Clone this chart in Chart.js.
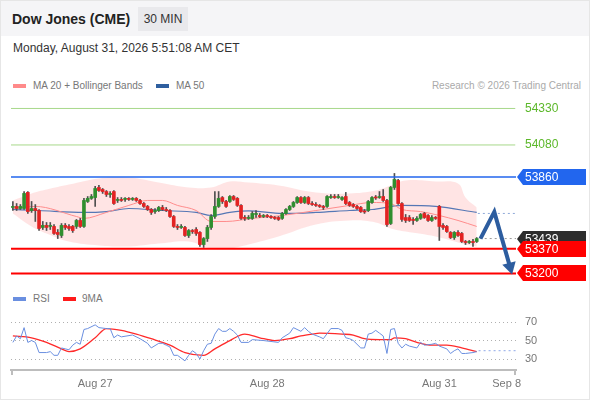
<!DOCTYPE html>
<html>
<head>
<meta charset="utf-8">
<script src="https://cdn.jsdelivr.net/npm/chart.js@4.4.1/dist/chart.umd.min.js"></script>
<style>
  body { margin: 0; overflow: hidden; background: #fff; font-family: "Liberation Sans", Arial, sans-serif; }
  #wrap { position: relative; width: 590px; height: 400px; overflow: hidden; }
  .abs { position: absolute; white-space: nowrap; }
  #header { left: 0; top: 0; width: 590px; height: 36px; background: #f5f5f7; }
  #title { left: 12px; top: 10px; font-size: 14px; font-weight: bold; color: #222; line-height: 18px; }
  #badge { left: 138px; top: 7px; width: 50px; height: 24px; line-height: 24px; text-align: center; background: #e9e9ec; font-size: 12px; color: #333; }
  #date { left: 13px; top: 41px; font-size: 12px; line-height: 15px; color: #333; }
  .leg { font-size: 10px; line-height: 12px; color: #777; }
  .sw { position: absolute; width: 13px; height: 4px; }
  #frame { left: 0; top: 0; width: 590px; height: 400px; box-sizing: border-box; border: 1px solid #e6e6e6; pointer-events: none; }
  canvas { position: absolute; left: 0; }
</style>
</head>
<body>
<div id="wrap">
  <div id="header" class="abs"></div>
  <div id="title" class="abs">Dow Jones (CME)</div>
  <div id="badge" class="abs">30 MIN</div>
  <div id="date" class="abs">Monday, August 31, 2026 5:51:08 AM CET</div>

  <div class="sw" style="left:13px;top:84px;background:#ff8a8a"></div>
  <div class="abs leg" style="left:33px;top:80px">MA 20 + Bollinger Bands</div>
  <div class="sw" style="left:156px;top:84px;background:#2f5f9f"></div>
  <div class="abs leg" style="left:176px;top:80px">MA 50</div>
  <div class="abs leg" style="right:9px;top:80px;color:#aaa">Research © 2026 Trading Central</div>

  <canvas id="priceChart" width="590" height="195" style="top:95px"></canvas>

  <div class="sw" style="left:13px;top:297px;background:#6a8fe0"></div>
  <div class="abs leg" style="left:33px;top:293px">RSI</div>
  <div class="sw" style="left:63px;top:297px;background:#ff1a1a"></div>
  <div class="abs leg" style="left:82px;top:293px">9MA</div>

  <canvas id="rsiChart" width="590" height="95" style="top:305px"></canvas>
  <div id="frame" class="abs"></div>
</div>

<script>
// 30 min candles, index 0 = first bar on screen
const candleOpen = [
  53652,53659,53645,53645,53755,53631,53645,53631,53515,53529,
  53522,53522,53481,53460,53529,53522,53522,53522,53563,53522,
  53693,53714,53720,53789,53775,53761,53741,53761,53700,53707,
  53707,53714,53707,53714,53700,53679,53659,53638,53624,53631,
  53652,53638,53631,53590,53522,53515,53515,53460,53494,53501,
  53481,53398,53439,53515,53590,53659,53720,53693,53693,53727,
  53714,53666,53583,53577,53577,53604,53597,53590,53597,53590,
  53583,53583,53577,53611,53638,53659,53686,53720,53686,53720,
  53679,53672,53666,53659,53659,53720,53727,53720,53707,53727,
  53686,53672,53659,53652,53624,53631,53686,53720,53720,53727,
  53700,53542,53789,53837,53679,53583,53583,53570,53563,53577,
  53611,53597,53563,53583,53659,53529,53522,53481,53446,53481,
  53474,53419,53412,53419,53419
];
const candleClose = [
  53659,53645,53659,53748,53624,53645,53631,53508,53529,53515,
  53529,53474,53467,53529,53515,53508,53494,53563,53522,53700,
  53714,53727,53782,53768,53761,53741,53748,53679,53707,53700,
  53714,53707,53714,53700,53679,53659,53638,53618,53631,53652,
  53638,53631,53590,53522,53515,53522,53460,53494,53487,53474,
  53398,53439,53515,53590,53659,53714,53693,53659,53727,53707,
  53666,53577,53577,53583,53611,53611,53590,53597,53590,53583,
  53577,53570,53611,53638,53659,53686,53720,53686,53720,53679,
  53672,53666,53659,53652,53727,53727,53720,53727,53720,53679,
  53666,53659,53645,53624,53621,53693,53720,53717,53727,53700,
  53535,53789,53844,53679,53570,53563,53563,53563,53577,53604,
  53583,53563,53583,53577,53522,53515,53487,53446,53481,53460,
  53419,53412,53419,53412,53439
];
const candleHigh = [
  53693,53679,53672,53761,53761,53693,53672,53638,53556,53549,
  53549,53535,53501,53542,53542,53535,53529,53570,53577,53714,
  53727,53741,53796,53803,53782,53768,53761,53768,53720,53720,
  53720,53720,53720,53720,53707,53686,53666,53645,53645,53659,
  53666,53652,53638,53597,53535,53535,53522,53501,53501,53515,
  53487,53446,53529,53604,53761,53761,53727,53700,53734,53734,
  53720,53672,53597,53597,53624,53631,53611,53604,53604,53597,
  53590,53590,53618,53645,53666,53693,53727,53727,53727,53727,
  53693,53686,53672,53666,53734,53741,53741,53741,53727,53755,
  53693,53679,53666,53659,53638,53700,53727,53734,53761,53775,
  53707,53796,53885,53844,53686,53604,53597,53583,53590,53611,
  53618,53604,53597,53590,53666,53542,53529,53487,53487,53494,
  53481,53426,53426,53433,53446
];
const candleLow = [
  53631,53631,53638,53638,53611,53618,53556,53494,53501,53494,
  53501,53467,53439,53446,53501,53494,53481,53508,53515,53515,
  53686,53707,53659,53761,53748,53727,53720,53672,53686,53693,
  53693,53700,53700,53693,53672,53652,53631,53604,53611,53624,
  53631,53624,53583,53515,53501,53508,53453,53446,53474,53460,
  53385,53378,53419,53501,53577,53652,53679,53652,53686,53700,
  53659,53570,53563,53570,53570,53583,53583,53583,53583,53577,
  53570,53563,53570,53604,53631,53652,53679,53679,53679,53672,
  53666,53659,53652,53638,53652,53714,53714,53714,53700,53672,
  53659,53652,53638,53618,53611,53624,53679,53707,53714,53693,
  53522,53535,53775,53672,53556,53549,53556,53535,53556,53570,
  53577,53556,53556,53570,53426,53501,53481,53439,53433,53453,
  53412,53398,53405,53385,53412
];

// Bollinger bands (MA 20)
const bbIdx   = [0, 5, 9, 15, 23, 31, 39, 47, 53, 58, 63, 71, 81, 90, 97, 101, 105, 113, 119, 121, 124];
const bbUpper = [53700,53748,53775,53809,53851,53857,53823,53789,53789,53830,53823,53803,53755,53748,53768,53803,53837,53830,53816,53720,53652];
const bbLower = [53611,53522,53474,53419,53392,53385,53405,53419,53371,53371,53398,53453,53535,53563,53549,53508,53487,53453,53412,53398,53385];

const ma20Idx = [0, 6, 17, 19, 25, 31, 36, 40, 44, 49, 53, 57, 64, 72, 81, 90, 96, 101, 104, 109, 114, 119, 124];
const ma20Val = [53645,53659,53590,53577,53618,53666,53700,53700,53666,53631,53556,53556,53577,53597,53631,53666,53686,53679,53638,53624,53597,53563,53522];

const ma50Idx = [0, 7, 19, 25, 31, 40, 49, 53, 58, 63, 72, 81, 90, 96, 104, 113, 124];
const ma50Val = [53638,53631,53618,53624,53645,53631,53618,53597,53618,53628,53611,53618,53631,53638,53666,53659,53618];

// key levels
const resistLevels = [54330, 54080];
const pivotLevel = 53860;
const supportLevels = [53370, 53200];
const lastPrice = 53439;
const ma50Last = 53611;

// forecast arrow
const arrowIdx = [125, 128.7, 132.9];
const arrowVal = [53439, 53622, 53245];

// RSI panel
const rsiIdx = [0,1,2,3,4,5,6,7,9,10,11,12,13,14,15,16,17,18,19,20,22,23,25,26,27,28,29,32,34,36,37,39,40,41,42,43,44,46,47,48,49,50,51,52,53,54,55,56,57,58,59,60,61,63,64,67,71,72,74,75,77,78,79,80,82,83,85,87,88,89,90,91,93,94,95,96,97,98,99,100,101,102,103,104,105,106,108,109,110,112,113,114,116,117,118,119,120,121,123,124];
const rsiVal = [48,55,52,64,48,50,48,37,37,38,34,34,42,41,40,45,48,46,62,63,67,64,63,63,53,56,54,56,52,47,42,47,47,45,43,34,34,28,34,39,36,30,39,46,47,57,63,60,60,63,60,56,48,48,51,50,48,53,58,64,60,64,60,57,54,52,63,63,61,53,52,50,42,42,57,58,61,58,55,36,62,63,47,42,46,44,42,48,45,46,47,44,41,36,39,41,36,36,37,38];
const rsiLast = 39;
const ma9Idx = [0,5,9,13,15,18,22,25,29,33,37,42,46,51,54,58,62,66,70,74,77,80,82,88,91,94,98,101,102,105,108,112,116,120,124];
const ma9Val = [55,53,48,41,38,41,53,63,61,57,52,45,37,34,41,50,57,53,50,52,55,57,58,57,56,52,51,51,53,52,48,45,45,42,38];
const rsiTicks = [30, 50, 70];

// x axis
const tickIdx = [22, 68, 114, 132];
const tickText = ['Aug 27', 'Aug 28', 'Aug 31', 'Sep 8'];

Chart.defaults.font.family = '"Liberation Sans", Arial, sans-serif';

const pts = (idx, val) => idx.map((x, k) => ({ x: x, y: val[k] }));
const hline = (v, from, to) => [{ x: from, y: v }, { x: to, y: v }];

const GREEN = '#2f8f2f';
const RED = '#e32222';
const upDown = candleOpen.map((o, i) => candleClose[i] >= o ? GREEN : RED);

const priceTags = {
  id: 'priceTags',
  afterDraw(chart) {
    const ctx = chart.ctx;
    const y = chart.scales.y;
    const x0 = chart.chartArea.right + 1;
    const x1 = 586;
    ctx.save();
    ctx.font = '12px "Liberation Sans", Arial, sans-serif';
    ctx.textBaseline = 'middle';
    resistLevels.forEach(v => {
      ctx.fillStyle = '#5cb82a';
      ctx.fillText(String(v), x0 + 8, y.getPixelForValue(v));
    });
    const tags = [
      [pivotLevel, '#2266ee'],
      [lastPrice, '#2d2d2d'],
      [supportLevels[0], '#ff0000'],
      [supportLevels[1], '#ff0000']
    ];
    tags.forEach(t => {
      const py = Math.round(y.getPixelForValue(t[0]));
      ctx.fillStyle = t[1];
      ctx.beginPath();
      ctx.moveTo(x0, py);
      ctx.lineTo(x0 + 6, py - 8);
      ctx.lineTo(x1, py - 8);
      ctx.lineTo(x1, py + 8);
      ctx.lineTo(x0 + 6, py + 8);
      ctx.closePath();
      ctx.fill();
      ctx.fillStyle = '#fff';
      ctx.fillText(String(t[0]), x0 + 8, py + 0.5);
    });
    ctx.restore();
  }
};

new Chart(document.getElementById('priceChart'), {
  type: 'bar',
  data: {
    datasets: [
      { type: 'line', data: pts(bbIdx, bbUpper), borderWidth: 0, pointRadius: 0, tension: 0.4,
        backgroundColor: 'rgba(255,190,190,0.42)', fill: '+1', order: 10 },
      { type: 'line', data: pts(bbIdx, bbLower), borderWidth: 0, pointRadius: 0, tension: 0.4,
        fill: false, order: 10 },
      { type: 'line', data: pts(ma20Idx, ma20Val), borderColor: '#ff8c8c', borderWidth: 1,
        pointRadius: 0, cubicInterpolationMode: 'monotone', order: 6 },
      { type: 'line', data: pts(ma50Idx, ma50Val), borderColor: '#5577b5', borderWidth: 1.2,
        pointRadius: 0, cubicInterpolationMode: 'monotone', order: 6 },
      { data: candleLow.map((l, i) => ({ x: i, y: [l, candleHigh[i]] })), backgroundColor: '#505050',
        barThickness: 1, grouped: false, order: 4 },
      { data: candleOpen.map((o, i) => ({ x: i, y: [o, candleClose[i]] })), backgroundColor: upDown,
        barThickness: 3, grouped: false, minBarLength: 1, order: 3 },
      { type: 'line', data: hline(resistLevels[0], -0.5, 134.3), borderColor: '#a8d88a', borderWidth: 1, pointRadius: 0, order: 2 },
      { type: 'line', data: hline(resistLevels[1], -0.5, 134.3), borderColor: '#a8d88a', borderWidth: 1, pointRadius: 0, order: 2 },
      { type: 'line', data: hline(pivotLevel, -0.5, 134.5), borderColor: '#2266ee', borderWidth: 1.5, pointRadius: 0, order: 2 },
      { type: 'line', data: hline(supportLevels[0], -0.5, 134.5), borderColor: '#ff0000', borderWidth: 2, pointRadius: 0, order: 2 },
      { type: 'line', data: hline(supportLevels[1], -0.5, 134.5), borderColor: '#ff0000', borderWidth: 2, pointRadius: 0, order: 2 },
      { type: 'line', data: hline(ma50Last, 124.3, 134.5), borderColor: '#8ea8d8', borderWidth: 1,
        borderDash: [2, 3], pointRadius: 0, order: 2 },
      { type: 'line', data: hline(lastPrice, 124.8, 134.5), borderColor: '#999', borderWidth: 1,
        borderDash: [2, 3], pointRadius: 0, order: 2 },
      { type: 'line', data: pts(arrowIdx, arrowVal), borderColor: '#2d5d9f', borderWidth: 4,
        borderJoinStyle: 'miter', pointStyle: 'triangle', pointRadius: [0, 0, 8], pointRotation: [0, 0, 165],
        pointBackgroundColor: '#2d5d9f', pointBorderWidth: 0, clip: false, order: 0 }
    ]
  },
  options: {
    responsive: false,
    animation: false,
    layout: { autoPadding: false, padding: { left: 11, right: 74, top: 0, bottom: 0 } },
    plugins: { legend: { display: false }, tooltip: { enabled: false } },
    scales: {
      x: { type: 'linear', min: -0.5, max: 134.5, offset: false, display: false },
      y: { min: 53086.7, max: 54422.2, display: false }
    }
  },
  plugins: [priceTags]
});

const endTicks = {
  id: 'endTicks',
  afterDraw(chart) {
    const a = chart.chartArea;
    const ctx = chart.ctx;
    ctx.save();
    ctx.strokeStyle = '#bdbdbd';
    ctx.lineWidth = 2;
    ctx.beginPath();
    ctx.moveTo(a.left + 1, a.bottom);
    ctx.lineTo(a.left + 1, a.bottom + 5);
    ctx.moveTo(a.right - 1, a.bottom);
    ctx.lineTo(a.right - 1, a.bottom + 5);
    ctx.stroke();
    ctx.restore();
  }
};

new Chart(document.getElementById('rsiChart'), {
  type: 'line',
  data: {
    datasets: [
      { data: pts(rsiIdx, rsiVal), borderColor: '#6a8fe0', borderWidth: 1, pointRadius: 0, tension: 0 },
      { data: pts(ma9Idx, ma9Val), borderColor: '#ff2a2a', borderWidth: 1.3, pointRadius: 0,
        cubicInterpolationMode: 'monotone' },
      { data: hline(rsiLast, 124.5, 134.5), borderColor: '#8ea8e8', borderWidth: 1,
        borderDash: [2, 3], pointRadius: 0 }
    ]
  },
  options: {
    responsive: false,
    animation: false,
    layout: { autoPadding: false, padding: { left: 11, right: 0, top: 5, bottom: 0 } },
    plugins: { legend: { display: false }, tooltip: { enabled: false } },
    scales: {
      x: {
        type: 'linear', min: -0.5, max: 134.5, offset: false,
        afterBuildTicks: axis => { axis.ticks = tickIdx.map(v => ({ value: v })); },
        afterFit: axis => { axis.height = 30; axis.paddingLeft = 0; axis.paddingRight = 0; },
        grid: { display: false, drawTicks: false },
        border: { display: true, color: '#bdbdbd', width: 2 },
        ticks: {
          callback: v => tickText[tickIdx.indexOf(v)],
          color: '#777', font: { size: 11 }, padding: 7, maxRotation: 0, autoSkip: false
        }
      },
      y: {
        position: 'right', min: 18.1, max: 83.1,
        afterBuildTicks: axis => { axis.ticks = rsiTicks.map(v => ({ value: v })); },
        afterFit: axis => { axis.width = 74; axis.paddingTop = 0; axis.paddingBottom = 0; },
        grid: { color: '#b0b0b0', drawTicks: false, lineWidth: 1 },
        border: { display: false, dash: [1, 3] },
        ticks: { color: '#777', font: { size: 11 }, padding: 9 }
      }
    }
  },
  plugins: [endTicks]
});
</script>
</body>
</html>
